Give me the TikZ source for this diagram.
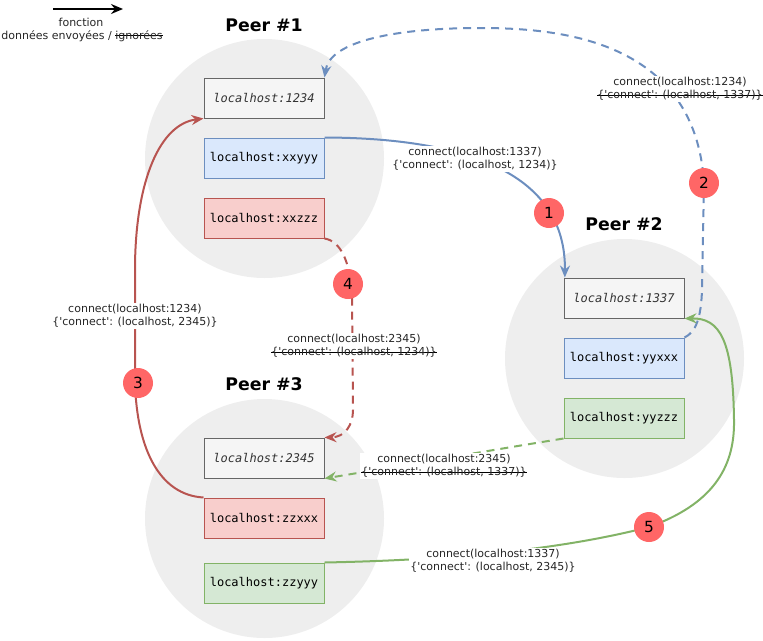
\documentclass[tikz,border=0pt]{standalone}
\usepackage{fontspec}
\setmainfont{DejaVu Sans}
\setmonofont{DejaVu Sans Mono}
\usetikzlibrary{arrows.meta}
\definecolor{peerbg}{HTML}{EEEEEE}
\definecolor{gfill}{HTML}{F5F5F5}
\definecolor{gstroke}{HTML}{666666}
\definecolor{gtext}{HTML}{333333}
\definecolor{bfill}{HTML}{DAE8FC}
\definecolor{bstroke}{HTML}{6C8EBF}
\definecolor{rfill}{HTML}{F8CECC}
\definecolor{rstroke}{HTML}{B85450}
\definecolor{gnfill}{HTML}{D5E8D4}
\definecolor{gnstroke}{HTML}{82B366}
\definecolor{badgecol}{HTML}{FF6666}
\newcommand{\sq}{\textquotesingle}
\newsavebox{\strkbox}
\newcommand{\strk}[1]{\sbox{\strkbox}{#1}\rlap{\color{black}\rule[0.3em]{\wd\strkbox}{0.75pt}}\usebox{\strkbox}}
\begin{document}
\begin{tikzpicture}[x=0.75pt,y=-0.75pt,
  peer/.style={circle, fill=peerbg, draw=none, minimum size=179.25pt, inner sep=0pt},
  title/.style={font=\fontsize{13}{15}\selectfont\bfseries, text=black},
  hostbox/.style={rectangle, draw, line width=0.75pt, minimum width=90pt, minimum height=30pt, inner sep=0pt, font=\fontsize{9}{11}\selectfont\ttfamily},
  graybox/.style={hostbox, fill=gfill, draw=gstroke, text=gtext, font=\fontsize{9}{11}\selectfont\ttfamily\itshape},
  bluebox/.style={hostbox, fill=bfill, draw=bstroke},
  redbox/.style={hostbox, fill=rfill, draw=rstroke},
  greenbox/.style={hostbox, fill=gnfill, draw=gnstroke},
  lbl/.style={fill=white, inner sep=1pt, align=center, font=\fontsize{8.25}{10}\selectfont, text=black!85},
  legtext/.style={inner sep=0pt, font=\fontsize{8.25}{10}\selectfont, text=black!85},
  badge/.style={circle, fill=badgecol, minimum size=22.5pt, inner sep=0pt, font=\fontsize{11.5}{13}\selectfont},
  conn/.style={line width=1.5pt, -{Stealth[length=9pt,width=7.5pt,inset=3pt]}},
  dsh/.style={dash pattern=on 6pt off 4.5pt},
]
\useasboundingbox (0,0) rectangle (763,640);

% legend
\coordinate (legA) at (53,9);
\coordinate (legB) at (123,9);
\draw[conn, color=black] (legA) -- (legB);
\node[legtext] (leg1) at (81,22) {fonction};
\node[legtext] (leg2) at (82,36) {données envoyées / \strk{ignorées}};

% peers
\node[peer] (c1) at (264.5,158.5) {};
\node[peer] (c2) at (624.5,358.5) {};
\node[peer] (c3) at (264.5,518.5) {};
\node[title] (t1) at (264,25) {Peer \#1};
\node[title] (t2) at (624,224.5) {Peer \#2};
\node[title] (t3) at (264,384.5) {Peer \#3};

% boxes
\node[graybox] (p1a) at (264,98) {localhost:1234};
\node[bluebox] (p1b) at (264,158) {localhost:xxyyy};
\node[redbox] (p1c) at (264,218) {localhost:xxzzz};
\node[graybox] (p2a) at (624,298) {localhost:1337};
\node[bluebox] (p2b) at (624,358) {localhost:yyxxx};
\node[greenbox] (p2c) at (624,418) {localhost:yyzzz};
\node[graybox] (p3a) at (264,458) {localhost:2345};
\node[redbox] (p3b) at (264,518) {localhost:zzxxx};
\node[greenbox] (p3c) at (264,583) {localhost:zzyyy};

% connectors
\draw[conn, color=bstroke] (p1b.north east) .. controls (470,138) and (566,175) .. ([xshift=1pt]p2a.north west);
\draw[conn, dsh, color=bstroke] (p2b.north east) .. controls (696,332) and (701,318) .. (702,290) -- (704,183) .. controls (695,40) and (560,28) .. (480,28) .. controls (400,28) and (330,40) .. (p1a.north east);
\draw[conn, color=rstroke] (p3b.north west) .. controls (160,495) and (137,450) .. (135,383) -- (135,265) .. controls (136,180) and (160,124) .. (p1a.south west);
\draw[conn, dsh, color=rstroke] (p1c.south east) .. controls (340,241) and (350,260) .. (352,295) -- (353,410) .. controls (353,425) and (345,437) .. (p3a.north east);
\draw[conn, dsh, color=gnstroke] (p2c.south west) .. controls (480,452) and (400,466) .. (p3a.south east);
\draw[conn, color=gnstroke] (p3c.north east) .. controls (450,560) and (560,550) .. (649,527) .. controls (710,505) and (735,470) .. (734,420) .. controls (733,340) and (720,318) .. (p2a.south east);

% labels
\node[lbl] (l1) at (475,159) {connect(localhost:1337)\\\{\sq connect\sq: (localhost, 1234)\}};
\node[lbl] (l2) at (680,89) {connect(localhost:1234)\\\strk{\{\sq connect\sq: (localhost, 1337)\}}};
\node[lbl] (l3) at (135,316) {connect(localhost:1234)\\\{\sq connect\sq: (localhost, 2345)\}};
\node[lbl] (l4) at (354,346) {connect(localhost:2345)\\\strk{\{\sq connect\sq: (localhost, 1234)\}}};
\node[lbl] (l6) at (444,466) {connect(localhost:2345)\\\strk{\{\sq connect\sq: (localhost, 1337)\}}};
\node[lbl] (l5) at (493,561) {connect(localhost:1337)\\\{\sq connect\sq: (localhost, 2345)\}};

% badges
\node[badge] (b1) at (549,213) {1};
\node[badge] (b2) at (704,183) {2};
\node[badge] (b3) at (138,383) {3};
\node[badge] (b4) at (348,284) {4};
\node[badge] (b5) at (649,527) {5};
\end{tikzpicture}
\end{document}
